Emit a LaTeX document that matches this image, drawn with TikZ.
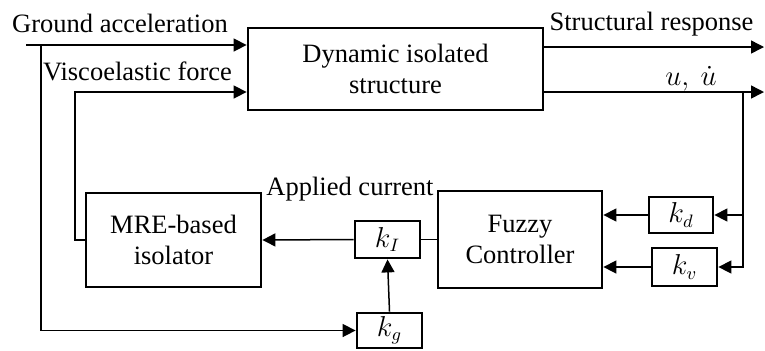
\documentclass[tikz,border=0pt]{standalone}
\usepackage{fontspec}
\setmainfont{Liberation Serif}
\usetikzlibrary{arrows.meta}
\begin{document}
\begin{tikzpicture}[x=0.5pt,y=-0.5pt,
  every node/.style={font=\fontsize{13.25}{15.8}\selectfont},
  blk/.style={draw,line width=1.4pt,inner sep=0pt,align=center,anchor=center},
  conn/.style={line width=0.75pt},
  arr/.style={conn,-{Triangle[length=6.5pt,width=6.5pt]}},
  lbl/.style={anchor=base,inner sep=0pt}]
\useasboundingbox (0,0) rectangle (765,350);
% blocks
\node[blk,minimum width=147.5pt,minimum height=41pt] (dyn) at (395.5,69) {Dynamic isolated\\structure};
\node[blk,minimum width=87.5pt,minimum height=47pt] (mre) at (173.5,240) {MRE-based\\isolator};
\node[blk,minimum width=82pt,minimum height=48.5pt] (fuz) at (520,239.5) {Fuzzy\\Controller};
\node[blk,minimum width=32.5pt,minimum height=18.5pt] (kI) at (387.5,239.5) {$k_I$};
\node[blk,minimum width=32.5pt,minimum height=17.5pt] (kg) at (389.5,330.5) {$k_g$};
\node[blk,minimum width=32pt,minimum height=18pt] (kd) at (681,215) {$k_d$};
\node[blk,minimum width=32.5pt,minimum height=19pt] (kv) at (684.5,267) {$k_v$};
% coordinates
\coordinate (ga) at (26,45);
\coordinate (gb) at (41,45);
\coordinate (vy) at (75,92);
\coordinate (sry) at (0,47);
\coordinate (sr) at (764,47);
\coordinate (uo) at (764,92);
\coordinate (rt) at (743,92);
% labels
\node[lbl] (lga) at (120,32) {Ground acceleration};
\node[lbl] (lvf) at (137.5,80) {Viscoelastic force};
\node[lbl] (lsr) at (651.5,30) {Structural response};
\node[lbl] (lu) at (691,85) {$u,\ \dot{u}$};
\node[lbl] (lac) at (350,195) {Applied current};
% connectors
\draw[arr] (ga) -- (ga -| dyn.west);
\draw[arr] (gb) |- (kg.west);
\draw[arr] (mre.west) -| (vy) -- (vy -| dyn.west);
\draw[arr] (dyn.east |- sry) -- (sr);
\draw[arr] (uo -| dyn.east) -- (uo);
\draw[arr] (rt) |- (kv.east);
\draw[arr] (rt |- kd.east) -- (kd.east);
\draw[arr] (kd.west) -- (kd.west -| fuz.east);
\draw[arr] (kv.west) -- (kv.west -| fuz.east);
\draw[conn] (kI.east) -- (fuz.west);
\draw[arr] (kI.west) -- (mre.east);
\draw[arr] (kg.north) -- (kI.south);
\end{tikzpicture}
\end{document}
